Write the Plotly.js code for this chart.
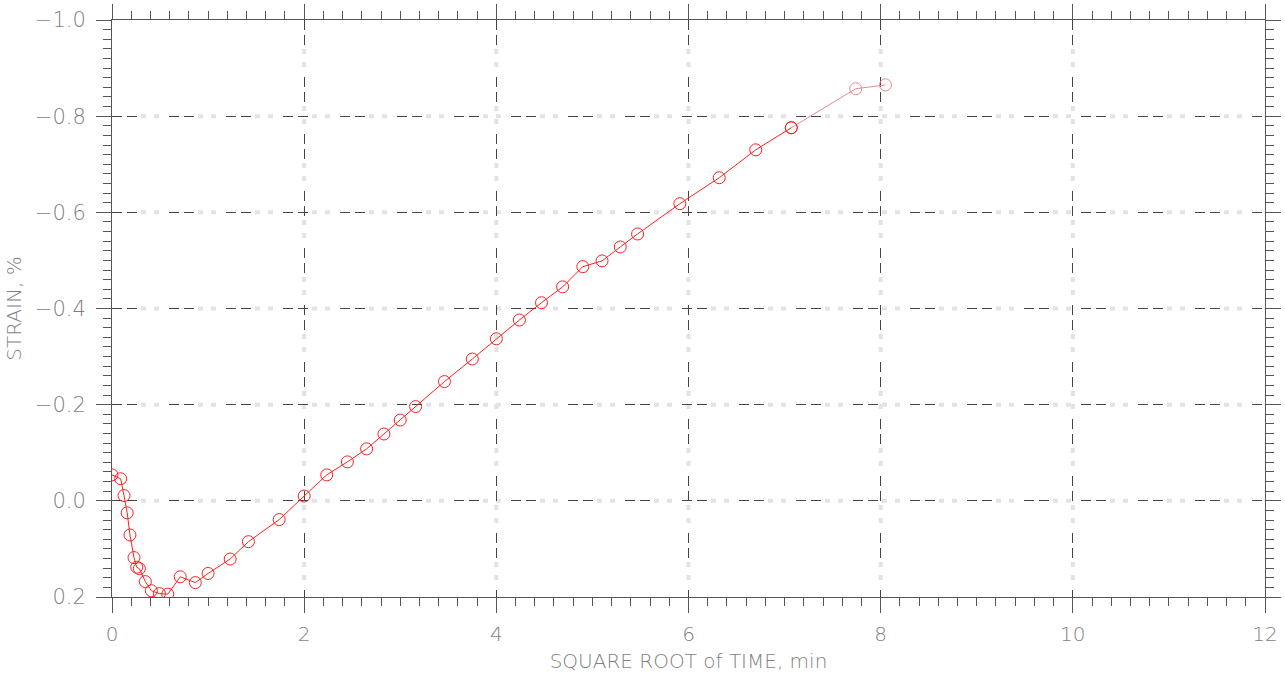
<!DOCTYPE html>
<html>
<head>
<meta charset="utf-8">
<script src="https://cdn.plot.ly/plotly-3.0.1.min.js"></script>
<style>html,body{margin:0;padding:0;background:#fff;}#chart{width:1285px;height:673px;}</style>
</head>
<body>
<div id="chart"></div>
<script>
// Square root of time (min^0.5)
const sqrtTime = [0, 0.09, 0.125, 0.158, 0.187, 0.229, 0.257, 0.285, 0.347, 0.41, 0.493, 0.58, 0.71, 0.867, 1.0, 1.23, 1.42, 1.74, 2.0, 2.235, 2.45, 2.65, 2.83, 3.0, 3.16, 3.46, 3.75, 4.0, 4.24, 4.47, 4.69, 4.9, 5.1, 5.29, 5.47, 5.91, 6.32, 6.7, 7.07, 7.74, 8.05];
// Strain, %
const strain = [-0.054, -0.046, -0.011, 0.025, 0.071, 0.118, 0.138, 0.141, 0.168, 0.187, 0.193, 0.194, 0.158, 0.170, 0.151, 0.121, 0.085, 0.039, -0.010, -0.054, -0.081, -0.108, -0.139, -0.168, -0.196, -0.248, -0.295, -0.337, -0.376, -0.412, -0.445, -0.487, -0.499, -0.528, -0.555, -0.618, -0.672, -0.730, -0.776, -0.857, -0.865];
const xTickVals = [0, 2, 4, 6, 8, 10, 12];
const xTickText = ['0', '2', '4', '6', '8', '10', '12'];
const yTickVals = [-1.0, -0.8, -0.6, -0.4, -0.2, 0.0, 0.2];
const yTickText = ['\u22121.0', '\u22120.8', '\u22120.6', '\u22120.4', '\u22120.2', '0.0', '0.2'];
const splitAt = 38; // last segment drawn lighter in the reference

const FONT = 'DejaVu Sans';
const RED = '#ff2020';
const PINK = '#e58a94';
const LABEL = '#7f7f7f';

const traces = [
  {
    x: sqrtTime.slice(splitAt), y: strain.slice(splitAt), mode: 'lines+markers',
    line: {color: PINK, width: 1},
    marker: {symbol: 'circle-open', size: 12, color: [RED, PINK, PINK], line: {width: 1}},
    showlegend: false, hoverinfo: 'skip'
  },
  {
    x: sqrtTime.slice(0, splitAt + 1), y: strain.slice(0, splitAt + 1), mode: 'lines+markers',
    line: {color: RED, width: 1},
    marker: {symbol: 'circle-open', size: 12, color: RED, line: {width: 1}},
    showlegend: false
  }
];

// light-grey dotted companion of each dashed grid line (drawn below the grid, in its gaps)
const dotStyle = {color: '#e3e3e3', width: 4, dash: '0px,29px,5px,8px,5px,10px'};
const shapes = [];
xTickVals.slice(1, -1).forEach(v => shapes.push({
  type: 'line', xref: 'x', yref: 'paper', x0: v, x1: v, y0: 1, y1: 0, layer: 'below', line: dotStyle
}));
yTickVals.slice(1, -1).forEach(v => shapes.push({
  type: 'line', xref: 'paper', yref: 'y', x0: 0, x1: 1, y0: v, y1: v, layer: 'below', line: dotStyle
}));

const axisCommon = {
  showline: true, linecolor: '#555', linewidth: 1,
  ticks: 'outside', ticklen: 15, tickwidth: 1, tickcolor: '#555',
  mirror: 'ticks', zeroline: false,
  showgrid: true, gridcolor: '#444', gridwidth: 1, griddash: '10px,5px,10px,32px',
  tickfont: {family: FONT, size: 20, color: LABEL, weight: 200},
};

const layout = {
  width: 1285, height: 673,
  margin: {l: 112, r: 20, t: 20, b: 76},
  paper_bgcolor: '#fff', plot_bgcolor: '#fff',
  shapes: shapes,
  xaxis: Object.assign({}, axisCommon, {
    range: [0, 12], tickmode: 'array', tickvals: xTickVals, ticktext: xTickText,
    minor: {dtick: 0.2, ticks: 'outside', ticklen: 8, tickcolor: '#555', tickwidth: 1, showgrid: false},
    ticklabelstandoff: 4,
    title: {text: 'SQUARE ROOT of TIME, min', font: {family: FONT, size: 20, color: LABEL, weight: 200}, standoff: 8}
  }),
  yaxis: Object.assign({}, axisCommon, {
    range: [0.2, -1.0], tickmode: 'array', tickvals: yTickVals, ticktext: yTickText,
    tickfont: {family: FONT, size: 21, color: LABEL, weight: 200},
    minor: {dtick: 0.02, ticks: 'outside', ticklen: 8, tickcolor: '#555', tickwidth: 1, showgrid: false},
    ticklabelstandoff: 6,
    title: {text: 'STRAIN, %', font: {family: FONT, size: 20, color: LABEL, weight: 200}, standoff: 7}
  })
};

Plotly.newPlot('chart', traces, layout, {staticPlot: true, displayModeBar: false});
</script>
</body>
</html>
